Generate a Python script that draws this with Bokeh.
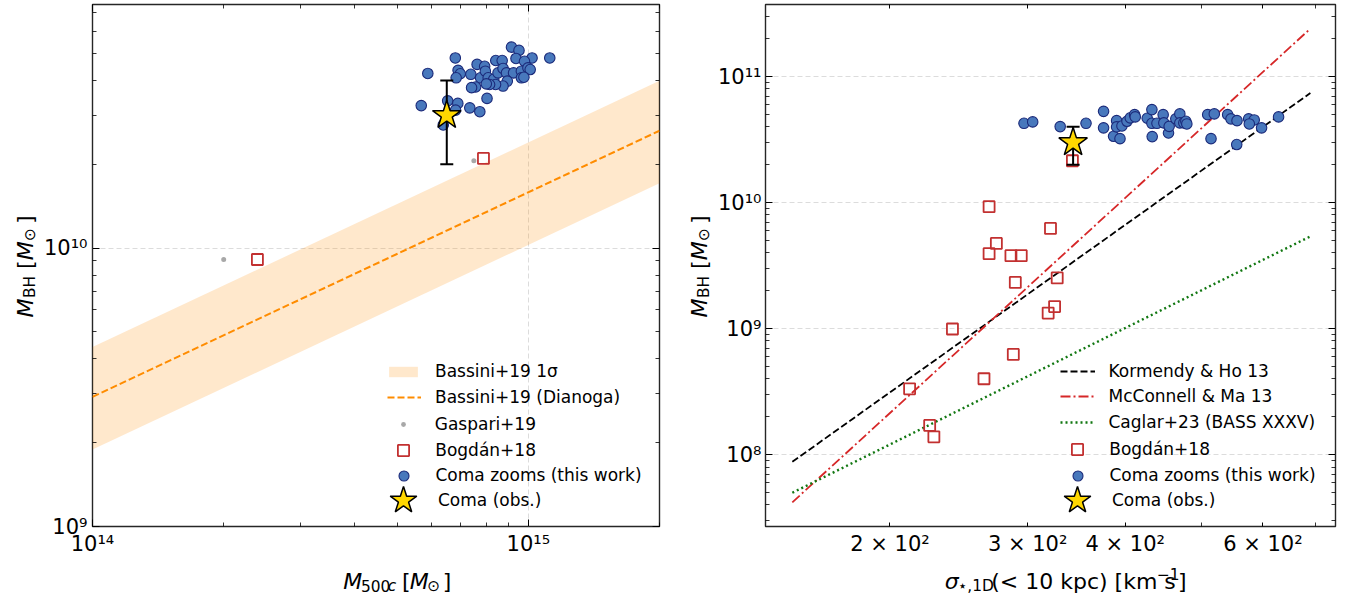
from math import pi
from bokeh.plotting import figure
from bokeh.models import (LogAxis, FixedTicker, Legend, LegendItem, Range1d)
from bokeh.core.properties import value
from bokeh.layouts import row, column
from bokeh.embed import file_html
from bokeh.resources import INLINE

FONT = "DejaVu Sans"

# ---------------- data: left panel (M500c vs M_BH) ----------------
bassini_m500 = [1e14, 2e15]
bassini_mbh = [2.92e9, 2.64e10]
bassini_lo = [1.89e9, 1.71e10]
bassini_hi = [4.41e9, 3.99e10]

gaspari_m500 = [2.0e14, 7.5e14]
gaspari_mbh = [9.1e9, 2.06e10]

bogdan_m500 = [2.39e14, 7.89e14]
bogdan_mbh_l = [9.1e9, 2.1e10]

zoom_m500 = [9.15e14, 9.52e14, 6.80e14, 1.12e15, 1.02e15, 9.37e14, 9.80e14, 8.42e14,
             8.71e14, 7.63e14, 7.94e14, 5.88e14, 6.90e14, 6.98e14, 6.83e14, 7.38e14,
             7.77e14, 7.97e14, 8.09e14, 8.33e14, 8.52e14, 8.75e14, 8.91e14, 9.25e14,
             9.64e14, 9.98e14, 1.01e15, 9.64e14, 9.77e14, 8.95e14, 8.75e14, 8.41e14,
             8.15e14, 8.01e14, 7.57e14, 7.41e14, 8.04e14, 5.68e14, 6.53e14, 6.89e14,
             7.34e14, 7.74e14, 6.81e14, 6.38e14]
zoom_mbh_l = [5.27e10, 5.13e10, 4.82e10, 4.82e10, 4.82e10, 4.80e10, 4.69e10, 4.72e10,
              4.72e10, 4.57e10, 4.50e10, 4.24e10, 4.35e10, 4.23e10, 4.09e10, 4.21e10,
              4.09e10, 4.32e10, 4.09e10, 4.04e10, 4.26e10, 4.42e10, 4.26e10, 4.26e10,
              4.32e10, 4.44e10, 4.38e10, 4.09e10, 4.11e10, 3.98e10, 3.82e10, 3.87e10,
              3.87e10, 3.89e10, 3.79e10, 3.77e10, 3.45e10, 3.25e10, 3.38e10, 3.31e10,
              3.19e10, 3.09e10, 3.13e10, 2.77e10]

coma_m500 = [6.5e14]
coma_mbh = [3.0e10]
coma_mbh_lo = [2.0e10]
coma_mbh_hi = [4.0e10]

# ---------------- data: right panel (sigma vs M_BH) ----------------
zoom_sigma = [296.8, 304.5, 330.2, 356.3, 375.2, 375.2, 386.4, 393.8, 389.9, 389.9,
              396.1, 402.0, 405.9, 411.1, 411.9, 426.7, 432.6, 432.6, 433.0, 439.1,
              447.2, 448.1, 454.3, 455.2, 464.2, 469.7, 469.7, 475.3, 478.1, 479.5,
              509.9, 519.9, 514.9, 540.8, 546.1, 555.9, 555.4, 575.3, 584.8, 576.4,
              597.6, 628.3]
zoom_mbh_r = [4.26e10, 4.37e10, 4.01e10, 4.26e10, 5.30e10, 3.92e10, 3.36e10, 3.22e10, 4.47e10, 3.99e10,
              4.06e10, 4.42e10, 4.70e10, 4.99e10, 4.79e10, 4.67e10, 5.47e10, 4.26e10, 3.34e10, 4.26e10,
              4.99e10, 4.29e10, 3.57e10, 4.03e10, 4.62e10, 5.06e10, 4.29e10, 4.29e10, 4.42e10, 4.21e10,
              4.99e10, 5.06e10, 3.22e10, 4.99e10, 4.62e10, 4.47e10, 2.89e10, 4.62e10, 4.53e10, 4.21e10,
              3.92e10, 4.79e10]

bogdan_sigma = [267.8, 320.9, 273.6, 267.8, 285.6, 294.4, 289.3, 327.3, 324.8, 318.7,
                240.4, 287.6, 263.8, 211.9, 224.8, 227.6, 342.3]
bogdan_mbh_r = [9.3e9, 6.25e9, 4.75e9, 3.94e9, 3.80e9, 3.80e9, 2.33e9, 2.53e9, 1.50e9, 1.33e9,
                9.95e8, 6.25e8, 4.01e8, 3.34e8, 1.71e8, 1.39e8, 2.15e10]

coma_sigma = [343.0]

rel_sigma = [150.0, 690.0]
kh13_mbh = [8.8e7, 7.4e10]
mm13_mbh = [4.2e7, 2.4e11]
caglar_mbh = [5.0e7, 5.4e9]

# tick labels
left_x_ticks = {1e14: "10\u00b9\u2074", 1e15: "10\u00b9\u2075"}
left_y_ticks = {1e9: "10\u2079", 1e10: "10\u00b9\u2070"}
right_x_ticks = {200.0: "2 \u00d7 10\u00b2", 300.0: "3 \u00d7 10\u00b2",
                 400.0: "4 \u00d7 10\u00b2", 600.0: "6 \u00d7 10\u00b2"}
right_y_ticks = {1e8: "10\u2078", 1e9: "10\u2079", 1e10: "10\u00b9\u2070", 1e11: "10\u00b9\u00b9"}

# axis-label pieces: (text, relative size, italic, baseline shift [em], gap before [em])
ylabel_segs = [("M", 1, True, 0, 0), ("BH", 0.7, False, -0.2, 0.02), ("[", 1, False, 0, 0.32),
               ("M", 1, True, 0, 0), ("\u2299", 0.7, False, -0.2, 0.02), ("]", 1, False, 0, 0.18)]
xlabel1_segs = [("M", 1, True, 0, 0), ("500", 0.7, False, -0.2, 0.02), ("c", 0.7, True, -0.2, 0),
                ("[", 1, False, 0, 0.32), ("M", 1, True, 0, 0), ("\u2299", 0.7, False, -0.2, 0.02),
                ("]", 1, False, 0, 0.18)]
xlabel2_segs = [("\u03c3", 1, True, 0, 0), ("\u22c6,1D", 0.7, False, -0.2, 0.02),
                ("(< 10 kpc) [km s", 1, False, 0, 0.02), ("\u22121", 0.7, False, 0.32, 0.08),
                ("]", 1, False, 0, 0.04)]

# ---------------- style ----------------
BLUE = "#4878bc"
NAVY = "#1b2a7a"
RED = "#c23030"
GOLD = "#ffd700"
H = 593

W = {'M': 0.863, 'B': 0.686, 'H': 0.752, ' ': 0.318, '[': 0.390, ']': 0.390, '\u2299': 0.838,
     '5': 0.636, '0': 0.636, '1': 0.636, 'c': 0.550, '\u03c3': 0.634, '\u22c6': 0.70, ',': 0.318,
     'D': 0.770, '(': 0.390, ')': 0.390, '<': 0.838, 'k': 0.579, 'p': 0.635, 's': 0.521,
     'm': 0.974, '\u2212': 0.838}


def tw(s, size):
    return sum(W.get(ch, 0.6) for ch in s) * size


def label_fig(w, h):
    f = figure(width=w, height=h, x_range=Range1d(0, w), y_range=Range1d(0, h),
               x_axis_type=None, y_axis_type=None, output_backend="svg",
               toolbar_location=None, min_border=0, min_border_left=0,
               min_border_right=0, min_border_top=0, min_border_bottom=0)
    f.outline_line_color = None
    f.xgrid.visible = False
    f.ygrid.visible = False
    f.background_fill_color = "white"
    f.border_fill_color = "white"
    return f


def compose_text(f, segs, base, vertical, c_along, c_across):
    total = sum(tw(t, base * sc) + g * base for t, sc, it, sh, g in segs)
    pos = c_along - total / 2
    for t, sc, it, sh, g in segs:
        size = base * sc
        pos += g * base
        kw = dict(text=[t], text_font=value(FONT), text_font_size=value(f"{size:.1f}px"),
                  text_font_style=value("italic" if it else "normal"), text_color="black",
                  text_align="left", text_baseline="alphabetic")
        if vertical:
            f.text(x=[c_across - sh * base], y=[pos], angle=pi / 2, **kw)
        else:
            f.text(x=[pos], y=[c_across + sh * base], **kw)
        pos += tw(t, size)


def style_axis(ax, ticker, labels=None, major_len=7, standoff=6):
    ax.ticker = ticker
    ax.axis_line_color = None
    ax.major_tick_in = major_len
    ax.major_tick_out = 0
    ax.minor_tick_in = 4
    ax.minor_tick_out = 0
    ax.major_tick_line_color = "black"
    ax.minor_tick_line_color = "black"
    ax.major_tick_line_width = 1
    ax.minor_tick_line_width = 0.8
    if labels is not None:
        ax.major_label_text_font = FONT
        ax.major_label_text_font_size = "21px"
        ax.major_label_text_color = "black"
        ax.major_label_standoff = standoff
        ax.major_label_overrides = labels
    else:
        ax.major_label_text_font_size = "1px"
        ax.major_label_text_alpha = 0
        ax.major_label_standoff = 0


def add_legend(p, r, label, gx, gy, gw, gh, text_x, frame_left, frame_bottom=528):
    """gx, gy, text_x: page pixels; frame_left/bottom: frame position on the page."""
    h = max(gh, 20)
    leg = Legend(items=[LegendItem(label=label, renderers=[r])],
                 location=(gx - gw / 2 - frame_left, frame_bottom - (gy + h / 2)),
                 glyph_width=int(round(gw)), glyph_height=int(round(gh)), label_height=20,
                 label_standoff=int(round(text_x - (gx + gw / 2))),
                 padding=0, margin=0, border_line_color=None, background_fill_alpha=0,
                 label_text_font=FONT, label_text_font_size="17px", label_text_color="black")
    p.add_layout(leg)


def base_fig(w, xr, yr, left, right):
    p = figure(width=w, height=558, x_axis_type="log", y_axis_type="log",
               x_range=xr, y_range=yr, output_backend="svg", toolbar_location=None,
               min_border_left=left, min_border_right=right, min_border_top=4,
               min_border_bottom=30)
    p.outline_line_color = "#262626"
    p.outline_line_width = 1.4
    p.background_fill_color = "white"
    p.border_fill_color = "white"
    return p


# ---------------- left panel ----------------
p1 = base_fig(623, Range1d(1e14, 2e15), Range1d(1e9, 7.5e10), 50, 4)
lx_tick = dict(ticks=[1e14, 1e15], minor_ticks=[2e14, 3e14, 4e14, 5e14, 6e14, 7e14, 8e14, 9e14, 2e15])
ly_tick = dict(ticks=[1e9, 1e10], minor_ticks=[2e9, 3e9, 4e9, 5e9, 6e9, 7e9, 8e9, 9e9,
                                                2e10, 3e10, 4e10, 5e10, 6e10, 7e10])
style_axis(p1.xaxis[0], FixedTicker(**lx_tick), left_x_ticks, standoff=5)
style_axis(p1.yaxis[0], FixedTicker(**ly_tick), left_y_ticks, standoff=5)
ax = LogAxis()
p1.add_layout(ax, "above")
style_axis(ax, FixedTicker(**lx_tick))
ax = LogAxis()
p1.add_layout(ax, "right")
style_axis(ax, FixedTicker(**ly_tick))
p1.xgrid.ticker = FixedTicker(ticks=[1e15])
p1.ygrid.ticker = FixedTicker(ticks=[1e10])
for g in (p1.xgrid, p1.ygrid):
    g.grid_line_color = "#dcdcdc"
    g.grid_line_dash = "5 3"
    g.grid_line_width = 1

rb = p1.varea(x=bassini_m500, y1=bassini_lo, y2=bassini_hi, fill_color="darkorange", fill_alpha=0.2)
rl = p1.line(bassini_m500, bassini_mbh, line_color="darkorange", line_width=2, line_dash="7 3")
rg = p1.scatter(gaspari_m500, gaspari_mbh, marker="circle", size=5, fill_color="#a8a8a8", line_color=None)
rs = p1.scatter(bogdan_m500, bogdan_mbh_l, marker="square", size=11, fill_color=None,
                line_color=RED, line_width=1.8)
rc = p1.scatter(zoom_m500, zoom_mbh_l, marker="circle", size=10.5, fill_color=BLUE,
                line_color=NAVY, line_width=1.1)
p1.segment(x0=coma_m500, y0=coma_mbh_lo, x1=coma_m500, y1=coma_mbh_hi, line_color="black", line_width=2)
p1.scatter(coma_m500 * 2, coma_mbh_lo + coma_mbh_hi, marker="dash", size=13, line_color="black", line_width=2)
rstar = p1.scatter(coma_m500, coma_mbh, marker="star", size=30, fill_color=GOLD,
                   line_color="black", line_width=1.5)

add_legend(p1, rb, "Bassini+19 1\u03c3", 401, 373, 36, 13, 433, 90)
add_legend(p1, rl, "Bassini+19 (Dianoga)", 402, 399, 34, 20, 433, 90)
add_legend(p1, rg, "Gaspari+19", 401, 426, 12.5, 12.5, 433, 90)
add_legend(p1, rs, "Bogd\u00e1n+18", 401, 452, 27.5, 27.5, 433, 90)
add_legend(p1, rc, "Coma zooms (this work)", 401, 477, 25, 25, 433, 90)
add_legend(p1, rstar, "Coma (obs.)", 401, 502, 70, 70, 433, 90)

# ---------------- right panel ----------------
p2 = base_fig(641, Range1d(138.6, 743.0), Range1d(2.7e7, 3.73e11), 49, 20)
rx_tick = dict(ticks=[200.0, 300.0, 400.0, 600.0], minor_ticks=[500.0, 700.0])
ry_minor = [m * 10.0 ** e for e in (7, 8, 9, 10) for m in range(2, 10)] + [2e11, 3e11]
ry_minor = [v for v in ry_minor if v >= 3e7]
ry_tick = dict(ticks=[1e8, 1e9, 1e10, 1e11], minor_ticks=ry_minor)
style_axis(p2.xaxis[0], FixedTicker(**rx_tick), right_x_ticks, major_len=4, standoff=5)
style_axis(p2.yaxis[0], FixedTicker(**ry_tick), right_y_ticks, standoff=4)
ax = LogAxis()
p2.add_layout(ax, "above")
style_axis(ax, FixedTicker(**rx_tick), major_len=4)
ax = LogAxis()
p2.add_layout(ax, "right")
style_axis(ax, FixedTicker(**ry_tick))
p2.xgrid.visible = False
p2.ygrid.ticker = FixedTicker(ticks=[1e8, 1e9, 1e10, 1e11])
p2.ygrid.grid_line_color = "#dcdcdc"
p2.ygrid.grid_line_dash = "5 3"
p2.ygrid.grid_line_width = 1

rk = p2.line(rel_sigma, kh13_mbh, line_color="black", line_width=1.8, line_dash="7 3")
rm = p2.line(rel_sigma, mm13_mbh, line_color="#d62728", line_width=1.8, line_dash="10 3 2 3")
rcg = p2.line(rel_sigma, caglar_mbh, line_color="#117711", line_width=2.4, line_dash="2 3")
rs2 = p2.scatter(bogdan_sigma, bogdan_mbh_r, marker="square", size=11, fill_color=None,
                 line_color=RED, line_width=1.8)
rc2 = p2.scatter(zoom_sigma, zoom_mbh_r, marker="circle", size=10.5, fill_color=BLUE,
                 line_color=NAVY, line_width=1.1)
p2.segment(x0=coma_sigma, y0=coma_mbh_lo, x1=coma_sigma, y1=coma_mbh_hi, line_color="black", line_width=2)
p2.scatter(coma_sigma * 2, coma_mbh_lo + coma_mbh_hi, marker="dash", size=13, line_color="black", line_width=2)
rstar2 = p2.scatter(coma_sigma, coma_mbh, marker="star", size=30, fill_color=GOLD,
                    line_color="black", line_width=1.5)

add_legend(p2, rk, "Kormendy & Ho 13", 1075, 373, 35, 20, 1107, 763)
add_legend(p2, rm, "McConnell & Ma 13", 1075, 398, 35, 20, 1107, 763)
add_legend(p2, rcg, "Caglar+23 (BASS XXXV)", 1075, 424, 35, 20, 1107, 763)
add_legend(p2, rs2, "Bogd\u00e1n+18", 1075, 451, 27.5, 27.5, 1107, 763)
add_legend(p2, rc2, "Coma zooms (this work)", 1075, 477, 25, 25, 1107, 763)
add_legend(p2, rstar2, "Coma (obs.)", 1075, 502, 70, 70, 1107, 763)

# ---------------- axis-label strips (pixel coordinates, y up) ----------------
ylab1 = label_fig(40, H)
compose_text(ylab1, ylabel_segs, 22, True, H - 266, 25)
xlab1 = label_fig(623, 35)
compose_text(xlab1, xlabel1_segs, 22, False, 334.5, 12)
ylab2 = label_fig(51, H)
compose_text(ylab2, ylabel_segs, 22, True, H - 266, 36)
xlab2 = label_fig(641, 35)
compose_text(xlab2, xlabel2_segs, 22, False, 337, 12)

layout = row(ylab1, column(p1, xlab1), ylab2, column(p2, xlab2))
open("out.html", "w").write(file_html(layout, INLINE))
